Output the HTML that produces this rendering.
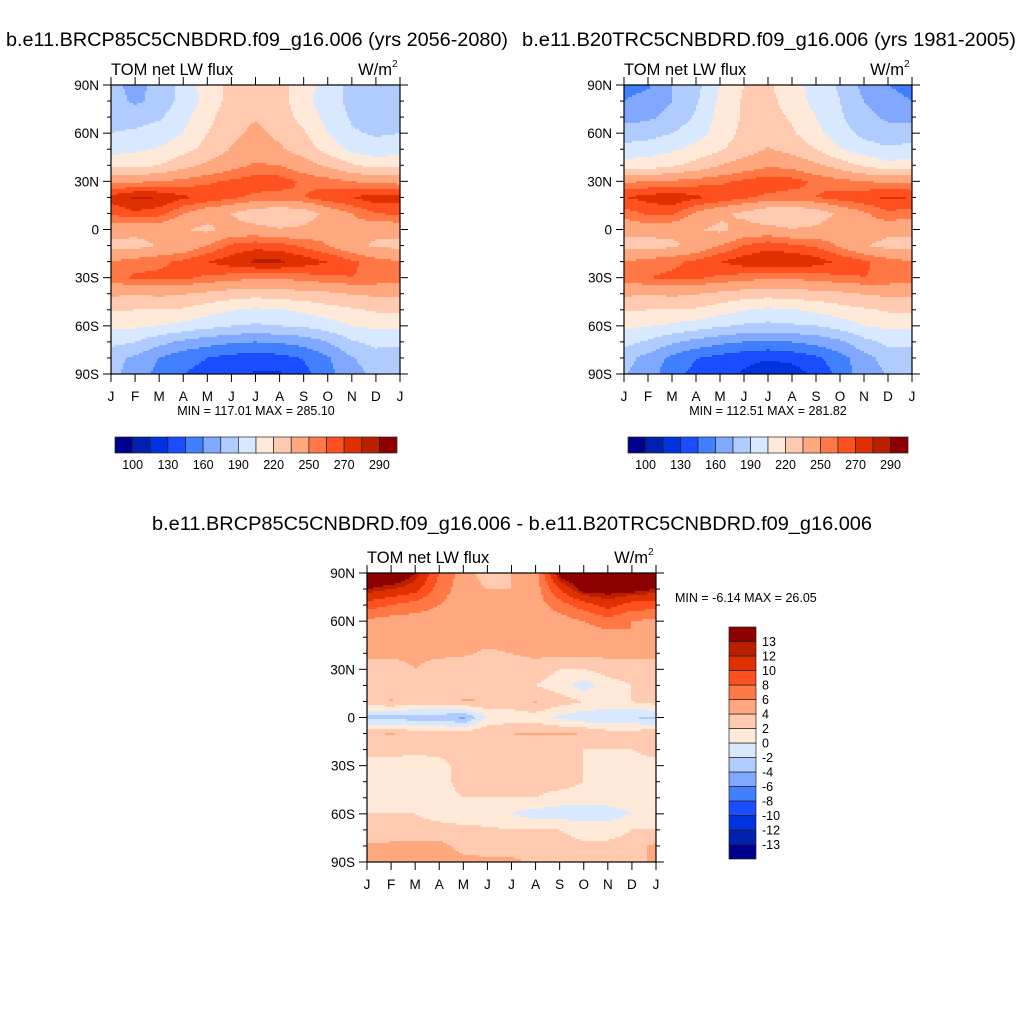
<!DOCTYPE html>
<html><head><meta charset="utf-8">
<style>
body{margin:0;background:#fff;}
svg text{font-family:"Liberation Sans",Arial,sans-serif;fill:#000;}
</style></head>
<body>
<svg id="fig" width="1024" height="1024" viewBox="0 0 1024 1024" xmlns="http://www.w3.org/2000/svg">
<rect width="1024" height="1024" fill="#fff"/>
<text x="6" y="46" font-size="19.5" textLength="502" lengthAdjust="spacingAndGlyphs">b.e11.BRCP85C5CNBDRD.f09_g16.006 (yrs 2056-2080)</text>
<text x="522" y="46" font-size="19.5" textLength="494" lengthAdjust="spacingAndGlyphs">b.e11.B20TRC5CNBDRD.f09_g16.006 (yrs 1981-2005)</text>
<text x="152" y="530" font-size="19.5" textLength="720" lengthAdjust="spacingAndGlyphs">b.e11.BRCP85C5CNBDRD.f09_g16.006 - b.e11.B20TRC5CNBDRD.f09_g16.006</text>
</svg>
<script>
const months = ["J","F","M","A","M","J","J","A","S","O","N","D","J"];
const latLabels = ["90N","60N","30N","0","30S","60S","90S"];
const colors = ["#00008c","#0020b0","#0033dd","#1a4dff","#4080ff","#80a8ff","#b0ccff","#d8e8ff","#ffeada","#ffcab0","#ffa880","#ff7845","#ff5020","#e03000","#b82000","#8c0000"];
const levelsAbs = [100,115,130,145,160,175,190,205,220,235,250,260,270,280,290];
const absTickLabels = ["100","130","160","190","220","250","270","290"];
const levelsDiff = [-13,-12,-10,-8,-6,-4,-2,0,2,4,6,8,10,12,13];
const diffTickLabels = ["-13","-12","-10","-8","-6","-4","-2","0","2","4","6","8","10","12","13"];
// rows: 90N,80N,...,90S ; cols: J..D,J
const futureLW = [
[180,170,180,195,212,225,228,225,212,198,185,180,180],
[182,172,180,196,210,226,230,226,210,196,186,180,182],
[185,185,188,200,215,230,234,228,215,200,188,183,185],
[190,192,196,205,220,232,238,232,222,205,192,188,190],
[200,202,206,215,225,236,240,237,228,215,200,196,200],
[215,215,220,230,238,245,252,250,242,232,222,215,215],
[245,248,250,254,258,262,265,265,258,255,250,245,245],
[275,282,280,272,268,262,258,256,260,266,270,276,275],
[262,268,264,250,240,235,225,222,226,240,250,260,262],
[240,240,240,236,232,240,240,236,238,245,245,240,240],
[232,230,236,240,250,262,266,264,258,250,240,232,232],
[250,255,258,262,270,276,282,282,276,270,262,255,250],
[255,262,262,262,258,255,252,252,255,258,260,258,255],
[238,236,238,236,232,228,226,228,230,232,236,238,238],
[222,220,220,218,212,206,202,204,208,214,218,222,222],
[208,208,205,200,195,190,188,190,192,198,205,208,208],
[195,190,180,172,166,162,160,162,166,175,188,195,195],
[180,172,160,150,145,140,138,140,146,158,174,182,180],
[178,170,155,145,140,135,128,128,140,155,170,178,178]];
const histLW = [
[155,158,175,185,205,220,222,212,198,188,170,160,155],
[160,165,175,188,208,222,224,214,200,190,175,165,160],
[170,172,180,192,210,222,226,218,205,192,180,172,170],
[182,184,190,198,212,224,228,222,210,196,186,182,182],
[195,198,202,210,218,228,236,230,220,206,196,192,195],
[212,212,218,225,235,242,248,246,238,228,218,210,212],
[248,250,252,255,258,262,266,264,258,254,250,248,248],
[270,274,278,272,268,262,258,256,260,265,268,272,270],
[255,262,262,248,238,232,222,220,226,238,248,258,255],
[240,242,240,236,232,240,240,236,238,245,245,240,240],
[230,228,232,240,250,260,266,262,258,248,236,230,230],
[250,255,258,262,270,276,280,280,275,268,262,255,250],
[255,260,262,262,258,255,252,252,255,258,260,258,255],
[238,236,238,236,232,228,226,228,230,232,236,238,238],
[222,220,220,218,212,206,202,204,208,214,218,222,222],
[208,206,202,198,192,188,186,188,190,196,205,208,208],
[195,188,178,170,164,160,158,160,165,172,185,194,195],
[180,170,156,146,140,135,132,135,142,154,170,180,180],
[176,168,150,140,134,128,118,122,134,150,168,176,176]];
const diffLW = [
[16,16,13,8,5,3,4,5,14,16,16,16,16],
[13,12,11,7,5,4,4,5,10,14,14,14,13],
[9,8,7,6,5,4.5,4.5,5,7,9,11,9,9],
[5.5,5,5,5,4.5,4.5,5,5,5,6,7,6,5.5],
[4.5,4,4.5,5,5,5,5.5,5,6,5,5,6,4.5],
[4.5,4.5,4.5,4.5,4.5,3.5,4,4.5,4.5,4.5,4.5,4.5,4.5],
[3,3,4,3,2,2,3,3,2,2,3,3,3],
[3,3,3,3,3,3,3,2,1,-1,1,2,3],
[3,4.2,3,3,4.2,4,3,4.2,3,2,2,2,3],
[-2.5,-3,-3,-3,-4.5,0,1,1,-0.5,-1.5,-2,-2,-2.5],
[3.5,4.2,3,3,3,4,4,4.2,4.2,4,3,3,3.5],
[3,3,3,3,3,3,3,2.5,2.5,2,2,2,3],
[1,1,0,1,3,2,2,4,3,2,1,1,1],
[1,2,2,1,3,3,3,3,3,2,2,2,1],
[1,2,1,1,2,2,2,2,1,1,1,1,1],
[2,2,2,1,0,0,0,-1,-1,-1,-1,0,2],
[2,2.5,3,3,3,2.5,2,2,2,1,1,2,2],
[4.5,4.5,4.5,4.5,3.5,3,3,3,3,2.5,2.5,3,4.5],
[4.5,4.5,4.5,4.5,4.5,4.5,4.5,3.5,3,2.5,2.5,3,4.5]];

const NS="http://www.w3.org/2000/svg";
const svg=document.getElementById('fig');
function el(tag,attrs,parent){const e=document.createElementNS(NS,tag);for(const k in attrs)e.setAttribute(k,attrs[k]);(parent||svg).appendChild(e);return e;}
function classOf(v,levels){let c=0;while(c<levels.length&&v>=levels[c])c++;return c;}
function sample(grid,fx,fy){
  const x0=Math.min(Math.floor(fx),11),y0=Math.min(Math.floor(fy),17);
  const tx=fx-x0,ty=fy-y0;
  const a=grid[y0][x0],b=grid[y0][x0+1],c=grid[y0+1][x0],d=grid[y0+1][x0+1];
  return a*(1-tx)*(1-ty)+b*tx*(1-ty)+c*(1-tx)*ty+d*tx*ty;
}
function panel(name,grid,levels,x0,y0,w,h){
  const g=el('g',{});
  
  
  const xScale=m=>x0+m/12*w, yScale=lat=>y0+(90-lat)/180*h;
  const step=2, nx=Math.ceil(w/step), ny=Math.ceil(h/step);
  for(let j=0;j<ny;j++){
    const py=y0+j*step, fy=Math.min(((j+0.5)*step)/h*18,18);
    let runStart=0, runC=-1;
    for(let i=0;i<=nx;i++){
      let c=-2;
      if(i<nx){const fx=Math.min(((i+0.5)*step)/w*12,12);c=classOf(sample(grid,fx,fy),levels);}
      if(c!==runC){
        if(runC>=0){
          const r=el('rect',{x:x0+runStart*step,y:py,width:Math.min((i-runStart)*step,w-runStart*step)+0.3,height:Math.min(step,y0+h-py)+0.3,fill:colors[runC]},g);
          
          
        }
        runStart=i;runC=c;
      }
    }
  }
  const f=el('rect',{x:x0,y:y0,width:w,height:h,fill:'none',stroke:'#000','stroke-width':1.2});
  
  
  for(let m=0;m<=12;m++){
    const x=xScale(m);
    el('line',{x1:x,y1:y0+h,x2:x,y2:y0+h+8,stroke:'#000','stroke-width':1});
    el('line',{x1:x,y1:y0,x2:x,y2:y0-8,stroke:'#000','stroke-width':1});
    const t=el('text',{x:x,y:y0+h+27,'font-size':13.5,'text-anchor':'middle'});
    t.textContent=months[m];
    
    
  }
  for(let lat=90;lat>=-90;lat-=10){
    const y=yScale(lat), major=lat%30===0, L=major?8:4;
    el('line',{x1:x0,y1:y,x2:x0-L,y2:y,stroke:'#000','stroke-width':1});
    el('line',{x1:x0+w,y1:y,x2:x0+w+L,y2:y,stroke:'#000','stroke-width':1});
  }
  latLabels.forEach((lb,k)=>{
    const t=el('text',{x:x0-12,y:yScale(90-30*k)+5,'font-size':13.5,'text-anchor':'end'});
    t.textContent=lb;
    
    
  });
  const lt=el('text',{x:x0,y:y0-10,'font-size':16.5});
  lt.textContent='TOM net LW flux';
  
  
  const ut=el('text',{x:x0+w-8,y:y0-10,'font-size':16.5,'text-anchor':'end'});
  ut.textContent='W/m';
  
  
  const sup=el('text',{x:x0+w-8,y:y0-18,'font-size':10});
  sup.textContent='2';
  
  
}
function hbar(name,x0,y0,w,h){
  const g=el('g',{});
  
  
  const bw=w/colors.length;
  colors.forEach((c,i)=>{
    const r=el('rect',{x:x0+i*bw,y:y0,width:bw,height:h,fill:c,stroke:'#222','stroke-width':0.7},g);
    
    
  });
  absTickLabels.forEach((lb,k)=>{
    const t=el('text',{x:x0+(2*k+1)*bw,y:y0+h+16,'font-size':12.5,'text-anchor':'middle'},g);
    t.textContent=lb;
    
    
  });
}
function vbar(name,x0,y0,w,h){
  const g=el('g',{});
  
  
  const bh=h/colors.length;
  colors.forEach((c,i)=>{
    const r=el('rect',{x:x0,y:y0+h-(i+1)*bh,width:w,height:bh,fill:c,stroke:'#222','stroke-width':0.7},g);
    
    
  });
  diffTickLabels.forEach((lb,k)=>{
    const t=el('text',{x:x0+w+6,y:y0+h-(k+1)*bh+4.5,'font-size':12.5},g);
    t.textContent=lb;
    
    
  });
}
function txt(name,s,x,y,size,anchor){
  const t=el('text',{x:x,y:y,'font-size':size,'text-anchor':anchor||'start'});
  t.textContent=s;
  
  
}
panel('future',futureLW,levelsAbs,111,85,289,289);
panel('historical',histLW,levelsAbs,624,85,288,289);
panel('difference',diffLW,levelsDiff,367,573,289,289);
txt('panel1-minmax','MIN = 117.01 MAX = 285.10',256,415,12.5,'middle');
txt('panel2-minmax','MIN = 112.51 MAX = 281.82',768,415,12.5,'middle');
txt('panel3-minmax','MIN =  -6.14 MAX =  26.05',675,602,12.5,'start');
hbar('colorbar-future',115,437,282,16);
hbar('colorbar-historical',628,437,280,16);
vbar('colorbar-difference',729,627,27,232);
</script>
</body></html>
